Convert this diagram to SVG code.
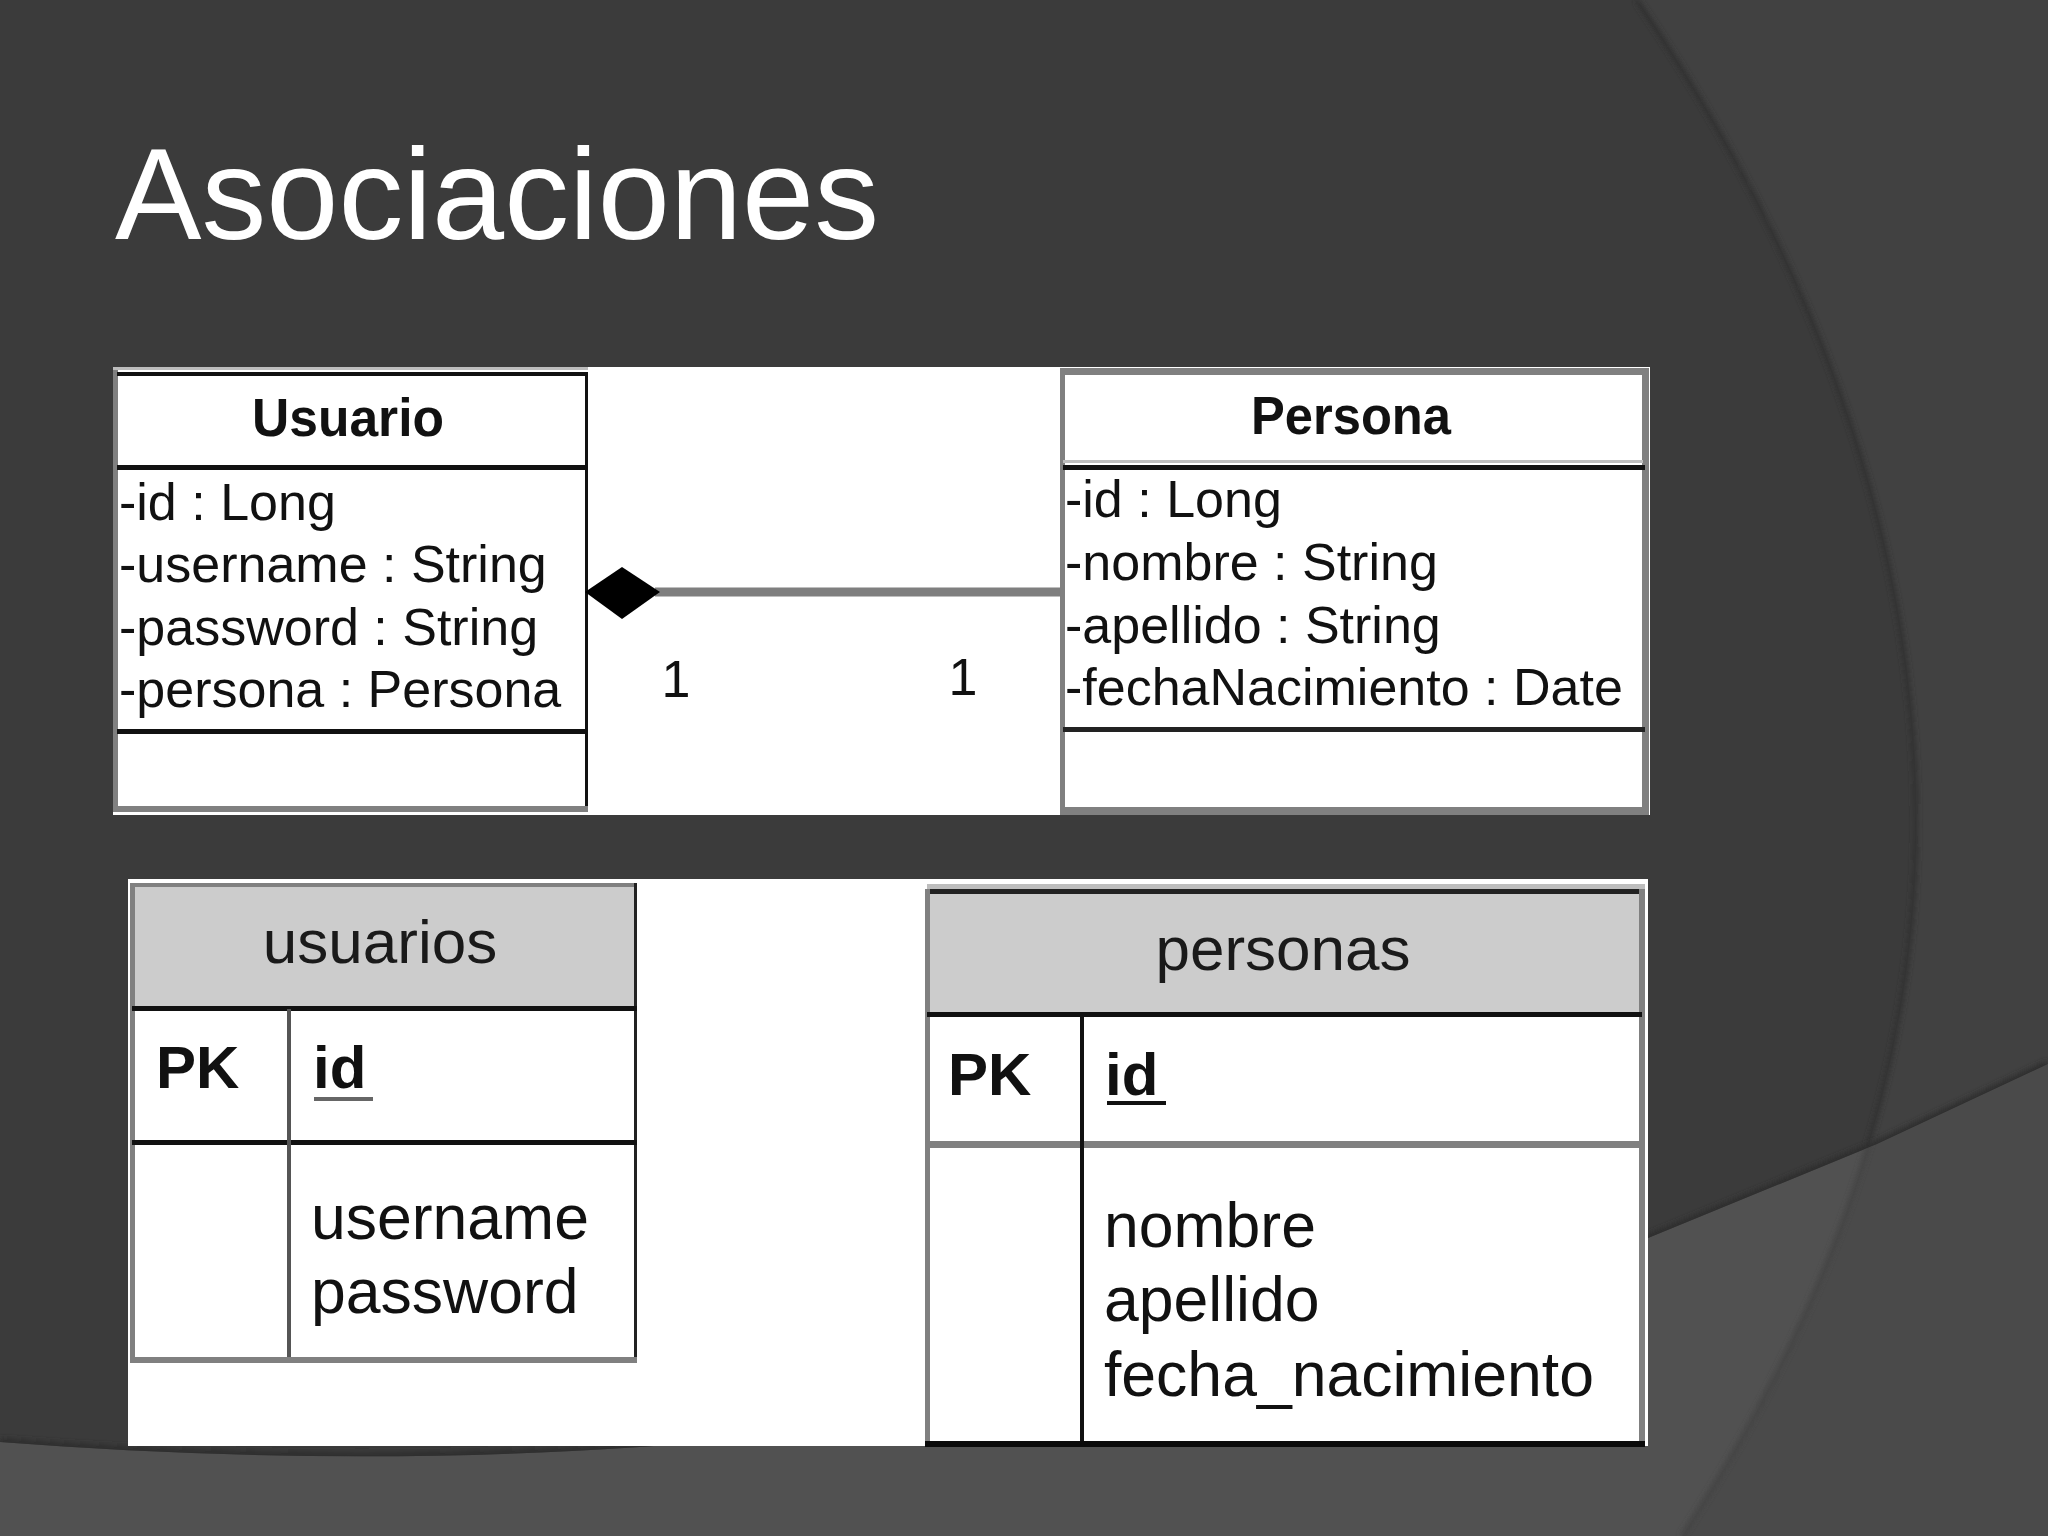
<svg xmlns="http://www.w3.org/2000/svg" width="2048" height="1536" viewBox="0 0 2048 1536">
<defs>
<style>
.t{font-family:"Liberation Sans",Arial,sans-serif;fill:#111}
.attr{font-size:52px}
.cls{font-size:54px;font-weight:bold;text-anchor:middle}
.tb{font-size:62.5px}
.th{font-size:62px;text-anchor:middle;fill:#1a1a1a}
.pk{font-size:60px;font-weight:bold}
.mult{font-size:52px;text-anchor:middle}
.k{fill:#111}
.g{fill:#808080}
.lg{fill:#bdbdbd}
.hdr{fill:#cccccc}
.panel{fill:#ffffff}
</style>
<filter id="soft" x="-10%" y="-10%" width="120%" height="120%"><feGaussianBlur stdDeviation="2.5"/></filter>
<clipPath id="band"><path d="M0,1442 C300,1465 600,1462 900,1420 C1200,1378 1500,1300 1648,1238 L1877,1144 L2048,1064 L2048,1536 L0,1536 Z"/></clipPath>
<clipPath id="aboveBand"><path d="M0,0 L2048,0 L2048,1064 L1877,1144 L1648,1238 C1500,1300 1200,1378 900,1420 C600,1462 300,1465 0,1442 Z"/></clipPath>
</defs>

<g id="background">
<rect x="0" y="0" width="2048" height="1536" fill="#3b3b3b"/>
<path d="M1637,0 Q1916,411.5 1916,823 Q1916,1179.5 1682,1536 L2048,1536 L2048,0 Z" fill="#414141"/>
<path d="M0,1442 C300,1465 600,1462 900,1420 C1200,1378 1500,1300 1648,1238 L1877,1144 L2048,1064 L2048,1536 L0,1536 Z" fill="#515151"/>
<g clip-path="url(#band)"><path d="M1637,0 Q1916,411.5 1916,823 Q1916,1179.5 1682,1536 L2048,1536 L2048,0 Z" fill="#4a4a4a"/></g>
<g clip-path="url(#aboveBand)"><path d="M1637,0 Q1916,411.5 1916,823 Q1916,1179.5 1682,1536" fill="none" stroke="#303030" stroke-width="5" filter="url(#soft)"/>
<path d="M0,1442 C300,1465 600,1462 900,1420 C1200,1378 1500,1300 1648,1238 L1877,1144 L2048,1064" fill="none" stroke="#2e2e2e" stroke-width="8" filter="url(#soft)"/></g>
<g clip-path="url(#band)"><path d="M1637,0 Q1916,411.5 1916,823 Q1916,1179.5 1682,1536" fill="none" stroke="#444444" stroke-width="5" filter="url(#soft)"/></g>
</g>

<text class="t" x="115" y="239" font-size="130" textLength="764" lengthAdjust="spacingAndGlyphs" style="fill:#ffffff">Asociaciones</text>

<rect class="panel" x="113" y="367" width="1537" height="448"/>
<rect class="panel" x="128" y="879" width="1520" height="567"/>

<g id="usuario-class">
<rect class="g" x="113" y="367" width="5" height="445"/>
<rect class="lg" x="113" y="367" width="475" height="3"/>
<rect class="k" x="117" y="372" width="471" height="4"/>
<rect class="k" x="585" y="372" width="3" height="440"/>
<rect class="k" x="117" y="465" width="471" height="5"/>
<rect class="k" x="117" y="729" width="471" height="5"/>
<rect class="g" x="113" y="806" width="475" height="6"/>
<text class="t cls" x="348" y="436" textLength="192" lengthAdjust="spacingAndGlyphs">Usuario</text>
<text class="t attr" x="119" y="520">-id : Long</text>
<text class="t attr" x="119" y="582">-username : String</text>
<text class="t attr" x="119" y="645">-password : String</text>
<text class="t attr" x="119" y="707">-persona : Persona</text>
</g>

<g id="persona-class">
<rect class="g" x="1060" y="368" width="5" height="447"/>
<rect class="g" x="1060" y="368" width="589" height="7"/>
<rect class="g" x="1642" y="368" width="7" height="447"/>
<rect class="lg" x="1063" y="460" width="580" height="3"/>
<rect class="k" x="1063" y="465" width="582" height="5"/>
<rect x="1063" y="727" width="582" height="5" fill="#222"/>
<rect class="g" x="1060" y="807" width="589" height="8"/>
<text class="t cls" x="1351" y="434" textLength="200" lengthAdjust="spacingAndGlyphs">Persona</text>
<text class="t attr" x="1065" y="517">-id : Long</text>
<text class="t attr" x="1065" y="580">-nombre : String</text>
<text class="t attr" x="1065" y="643">-apellido : String</text>
<text class="t attr" x="1065" y="705">-fechaNacimiento : Date</text>
</g>

<g id="connectors">
<line x1="655" y1="592" x2="1061" y2="592" stroke="#7f7f7f" stroke-width="9"/>
<polygon points="585,592 622,567 660,592 622,619" fill="#000"/>
<text class="t mult" x="676" y="697">1</text>
<text class="t mult" x="963" y="695">1</text>
</g>

<g id="usuarios-table">
<rect class="hdr" x="132" y="885" width="505" height="124"/>
<rect class="g" x="130" y="883" width="507" height="4"/>
<rect class="g" x="130" y="883" width="5" height="480"/>
<rect x="634" y="883" width="3" height="480" fill="#222"/>
<rect class="k" x="132" y="1006" width="505" height="5"/>
<rect class="k" x="132" y="1140" width="505" height="5"/>
<rect x="287" y="1009" width="4" height="352" fill="#555"/>
<rect class="g" x="130" y="1357" width="507" height="6"/>
<text class="t th" x="380" y="963">usuarios</text>
<text class="t pk" x="156" y="1088">PK</text>
<text class="t pk" x="313" y="1088">id</text>
<rect x="314" y="1097" width="59" height="4" fill="#666"/>
<text class="t tb" x="311" y="1239">username</text>
<text class="t tb" x="311" y="1313">password</text>
</g>

<g id="personas-table">
<rect class="lg" x="927" y="884" width="718" height="5"/>
<rect class="hdr" x="927" y="891" width="715" height="122"/>
<rect x="925" y="889" width="720" height="5" fill="#222"/>
<rect class="g" x="925" y="889" width="5" height="557"/>
<rect class="g" x="1639" y="889" width="6" height="557"/>
<rect class="k" x="927" y="1012" width="715" height="5"/>
<rect class="g" x="927" y="1141" width="715" height="7"/>
<rect class="k" x="1080" y="1013" width="4" height="430"/>
<rect x="925" y="1441" width="720" height="6" fill="#0a0a0a"/>
<text class="t th" x="1283" y="970">personas</text>
<text class="t pk" x="948" y="1095">PK</text>
<text class="t pk" x="1105" y="1095">id</text>
<rect class="k" x="1107" y="1101" width="59" height="4"/>
<text class="t tb" x="1104" y="1247">nombre</text>
<text class="t tb" x="1104" y="1321">apellido</text>
<text class="t tb" x="1104" y="1396">fecha_nacimiento</text>
</g>
</svg>
